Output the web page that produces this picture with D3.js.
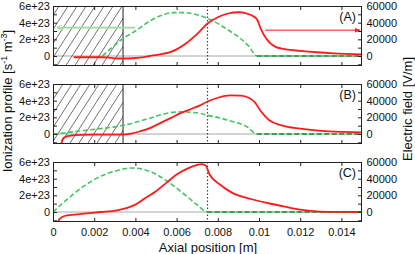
<!DOCTYPE html>
<html><head><meta charset="utf-8">
<script src="https://cdn.jsdelivr.net/npm/d3@7"></script>
<style>
body{margin:0;background:#fff}
text{font-family:"Liberation Sans",Arial,Helvetica,sans-serif}
</style>
</head><body>
<svg id="c" width="415" height="254"></svg>
<script>
// ---------- data ----------
const panelLabels = ["(A)", "(B)", "(C)"];
const xTicks = [0, 0.002, 0.004, 0.006, 0.008, 0.01, 0.012, 0.014];
const ionTicks = [0, 2e23, 4e23, 6e23];
const fieldTicks = [0, 20000, 40000, 60000];
const ionMinor = [-1e23, 0, 1e23, 2e23, 3e23, 4e23, 5e23, 6e23];
const fieldMinor = [-10000, 0, 10000, 20000, 30000, 40000, 50000, 60000];
const hatchEnd = 0.0034;     // hatched region end [m]
const markerX = 0.0075;      // dotted vertical line [m]

// Panel A
const ionA_x = [0.0024,0.003,0.0034,0.004,0.0047,0.0053,0.0058,0.0064,0.0069,0.0073,0.0077,0.0082,0.0087,0.0091,0.0095,0.0099,0.015];
const ionA_y = [0,1.3e23,2.1e23,3.0e23,4.2e23,4.9e23,5.2e23,5.2e23,5.0e23,4.7e23,4.3e23,3.6e23,2.8e23,2.1e23,1.2e23,0,0];
const fieldA_x = [0.001,0.0024,0.0028,0.0031,0.0036,0.0042,0.0047,0.0052,0.0056,0.006,0.0064,0.0068,0.0071,0.0075,0.008,0.0085,0.009,0.0094,0.0097,0.0099,0.0101,0.01035,0.0108,0.0113,0.012,0.0128,0.0136,0.015];
const fieldA_y = [-1500,-1500,-2200,-3000,-3000,-2000,0,2000,4000,8000,14000,22000,29000,39000,46500,51000,52500,51000,48000,44000,32000,21000,11000,8000,6200,4500,3200,2000];

// Panel B
const ionB_x = [0,0.0018,0.0034,0.0047,0.0053,0.0058,0.0063,0.0067,0.0071,0.0075,0.0081,0.0087,0.0094,0.0099,0.015];
const ionB_y = [0,0.5e23,1.04e23,1.9e23,2.35e23,2.6e23,2.65e23,2.6e23,2.5e23,2.25e23,1.93e23,1.5e23,0.9e23,0,0];
const fieldB_x = [0.0004,0.00045,0.0006,0.0009,0.0014,0.002,0.0034,0.0038,0.0042,0.0047,0.0052,0.0057,0.0062,0.0066,0.0071,0.0075,0.008,0.0086,0.0091,0.0095,0.0098,0.0101,0.0105,0.0111,0.012,0.0134,0.015];
const fieldB_y = [-13000,-7000,-3500,-1800,-1000,-800,-800,500,3000,7000,13000,19000,25000,29000,34000,39000,43500,46300,46000,43500,38000,27000,16500,10400,6400,3100,2000];

// Panel C
const ionC_x = [0,0.0007,0.0015,0.0023,0.0031,0.0038,0.0047,0.0055,0.0063,0.007,0.0075,0.015];
const ionC_y = [0,1.55e23,3.1e23,4.28e23,4.96e23,5.28e23,4.88e23,3.76e23,2.28e23,0.85e23,0,0];
const fieldC_x = [0.00024,0.0003,0.00042,0.0006,0.0009,0.0015,0.0023,0.0031,0.0036,0.004,0.0045,0.005,0.0055,0.006,0.0066,0.007,0.0072,0.0074,0.0076,0.0081,0.0087,0.0096,0.0104,0.0112,0.012,0.0128,0.0136,0.015];
const fieldC_y = [-13000,-9000,-6400,-4500,-3500,-2000,0,2000,5000,8800,17000,25000,35000,45000,53000,56500,57500,56000,45000,33000,23000,15600,10800,6800,2800,800,200,0];

// Annotation arrows (panel A)
const arrowIon = {x0: 0.004, x1: 0.0002, field: 34000};
const arrowField = {x0: 0.0103, x1: 0.0149, field: 31000};

const panels = [
  {ionX: ionA_x, ionY: ionA_y, fX: fieldA_x, fY: fieldA_y, hatch: true},
  {ionX: ionB_x, ionY: ionB_y, fX: fieldB_x, fY: fieldB_y, hatch: true},
  {ionX: ionC_x, ionY: ionC_y, fX: fieldC_x, fY: fieldC_y, hatch: false}
];

// ---------- layout ----------
const left = 53, right = 362, panelH = 60;
const tops = [6, 84, 162];
const FONT = '"Liberation Sans",Arial,Helvetica,sans-serif';
const RED = "#ff1a1a", GREEN = "#45c564", GREEN_DARK = "#2f8f47";

const svg = d3.select("#c");
const defs = svg.append("defs");
const pat = defs.append("pattern").attr("id","hatch").attr("patternUnits","userSpaceOnUse")
  .attr("width",9).attr("height",14);
pat.append("path").attr("d","M-2.25,3.5 L2.25,-3.5 M0,14 L9,0 M6.75,17.5 L11.25,10.5")
  .attr("stroke","#333").attr("stroke-width",0.7).attr("fill","none");

defs.append("marker").attr("id","ahG").attr("viewBox","0 0 10 10").attr("refX",9).attr("refY",5)
  .attr("markerWidth",6).attr("markerHeight",6).attr("markerUnits","userSpaceOnUse").attr("orient","auto")
  .append("path").attr("d","M0,0 L10,5 L0,10").attr("fill","none").attr("stroke","#9edc9e").attr("stroke-width",1.6);
defs.append("marker").attr("id","ahR").attr("viewBox","0 0 10 10").attr("refX",9).attr("refY",5)
  .attr("markerWidth",6).attr("markerHeight",6).attr("markerUnits","userSpaceOnUse").attr("orient","auto")
  .append("path").attr("d","M0,1 L10,5 L0,9 z").attr("fill",RED);

const x = d3.scaleLinear().domain([0, 0.015]).range([left, right]);
const xFmt = v => v === 0 ? "0" : String(+v.toFixed(3));
const ionFmt = v => v === 0 ? "0" : (Math.round(v/1e23)) + "e+23";

panels.forEach((p, i) => {
  const top = tops[i];
  const yI = d3.scaleLinear().domain([-1.2e23, 6e23]).range([top + panelH, top]);
  const yF = d3.scaleLinear().domain([-12000, 60000]).range([top + panelH, top]);
  const g = svg.append("g");

  defs.append("clipPath").attr("id","clip"+i).append("rect")
    .attr("x",left).attr("y",top).attr("width",right-left).attr("height",panelH);

  // zero line
  g.append("line").attr("x1",x(0)).attr("x2",x(0.015)).attr("y1",yI(0)).attr("y2",yI(0))
    .attr("stroke","#a8a8a8").attr("stroke-width",1);

  // hatched region
  if (p.hatch) {
    g.append("rect").attr("x",x(0)).attr("y",top).attr("width",x(hatchEnd)-x(0)).attr("height",panelH)
      .attr("fill","url(#hatch)");
    g.append("line").attr("x1",x(hatchEnd)).attr("x2",x(hatchEnd)).attr("y1",top).attr("y2",top+panelH)
      .attr("stroke","#222").attr("stroke-width",1);
  }

  // dotted marker line
  g.append("line").attr("x1",x(markerX)).attr("x2",x(markerX)).attr("y1",top).attr("y2",top+panelH)
    .attr("stroke","#444").attr("stroke-width",1.2).attr("stroke-dasharray","1.5,2");

  const plot = g.append("g").attr("clip-path","url(#clip"+i+")");

  // ionization profile (left axis)
  const ion = p.ionX.map((v,k) => [v, p.ionY[k]]);
  const lineI = d3.line().x(d => x(d[0])).y(d => yI(d[1])).curve(d3.curveMonotoneX);
  plot.append("path").attr("d", lineI(ion)).attr("fill","none").attr("stroke",GREEN)
    .attr("stroke-width",1.6).attr("stroke-dasharray","5,2.5");
  // flat zero tail
  let peak = d3.maxIndex(ion, d => d[1]);
  let t0 = ion.findIndex((d,k) => k > peak && d[1] === 0);
  if (t0 >= 0) {
    plot.append("path").attr("d", d3.line().x(d => x(d[0])).y(d => yI(d[1]))(ion.slice(t0)))
      .attr("fill","none").attr("stroke",GREEN_DARK).attr("stroke-width",1.6).attr("stroke-dasharray","5,2.5");
  }

  // electric field (right axis)
  const fld = p.fX.map((v,k) => [v, p.fY[k]]);
  const lineF = d3.line().x(d => x(d[0])).y(d => yF(d[1])).curve(d3.curveMonotoneX);
  plot.append("path").attr("d", lineF(fld)).attr("fill","none").attr("stroke",RED).attr("stroke-width",1.8);

  if (i === 0) {
    g.append("line").attr("x1",x(arrowIon.x0)).attr("x2",x(arrowIon.x1))
      .attr("y1",yF(arrowIon.field)).attr("y2",yF(arrowIon.field))
      .attr("stroke","#9edc9e").attr("stroke-width",1.6).attr("marker-end","url(#ahG)");
    g.append("line").attr("x1",x(arrowField.x0)).attr("x2",x(arrowField.x1))
      .attr("y1",yF(arrowField.field)).attr("y2",yF(arrowField.field))
      .attr("stroke",RED).attr("stroke-width",1).attr("marker-end","url(#ahR)");
  }

  // frame
  g.append("rect").attr("x",left+0.5).attr("y",top+0.5).attr("width",right-left-1).attr("height",panelH-1)
    .attr("fill","none").attr("stroke","#222").attr("stroke-width",1);

  // axes
  const styleAxis = sel => {
    sel.select(".domain").remove();
    sel.attr("font-family", FONT).attr("font-size", 11);
    sel.selectAll(".tick line").attr("stroke","#222");
    sel.selectAll(".tick text").attr("fill","#111");
  };
  g.append("g").attr("transform",`translate(${left},0)`)
    .call(d3.axisLeft(yI).tickValues(ionMinor).tickSizeInner(-4).tickSizeOuter(0).tickPadding(3)
      .tickFormat(v => ionTicks.includes(v) ? ionFmt(v) : ""))
    .call(styleAxis);
  g.append("g").attr("transform",`translate(${right},0)`)
    .call(d3.axisRight(yF).tickValues(fieldMinor).tickSizeInner(-4).tickSizeOuter(0).tickPadding(4.5)
      .tickFormat(v => fieldTicks.includes(v) ? String(v) : ""))
    .call(styleAxis);
  g.append("g").attr("transform",`translate(0,${top})`)
    .call(d3.axisTop(x).tickValues(xTicks).tickSizeInner(-4).tickSizeOuter(0).tickFormat(""))
    .call(styleAxis);
  g.append("g").attr("transform",`translate(0,${top+panelH})`)
    .call(d3.axisBottom(x).tickValues(xTicks).tickSizeInner(-4).tickSizeOuter(0).tickPadding(6)
      .tickFormat(i === 2 ? xFmt : ""))
    .call(styleAxis);

  // panel label
  g.append("text").attr("x",356).attr("y",top+15).attr("text-anchor","end")
    .attr("font-size",12.5).attr("fill","#111").text(panelLabels[i]);
});

// axis titles
svg.append("text").attr("x",208).attr("y",251.5).attr("text-anchor","middle")
  .attr("font-size",13).attr("fill","#111").text("Axial position [m]");

const lt = svg.append("text").attr("transform","translate(12,101) rotate(-90)")
  .attr("text-anchor","middle").attr("font-size",13).attr("fill","#111");
lt.append("tspan").text("Ionization profile [s");
lt.append("tspan").attr("dy",-5).attr("font-size",9).text("-1");
lt.append("tspan").attr("dy",5).text(" m");
lt.append("tspan").attr("dy",-5).attr("font-size",9).text("-3");
lt.append("tspan").attr("dy",5).text("]");

svg.append("text").attr("transform","translate(412,109) rotate(-90)")
  .attr("text-anchor","middle").attr("font-size",13).attr("fill","#111").text("Electric field [V/m]");
</script>
</body></html>
